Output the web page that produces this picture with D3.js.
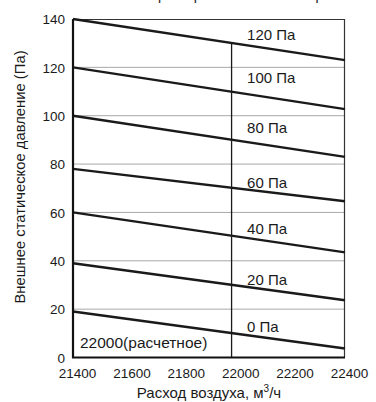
<!DOCTYPE html>
<html>
<head>
<meta charset="utf-8">
<script src="https://cdn.jsdelivr.net/npm/d3@7"></script>
<style>
  body { margin: 0; background: #fff; }
  text { font-family: "Liberation Sans", Arial, sans-serif; fill: #1a1a1a; }
</style>
</head>
<body>
<svg width="376" height="402"></svg>
<script>
// curves: static pressure vs air flow, one per label
var seriesNames = ["0 Па", "20 Па", "40 Па", "60 Па", "80 Па", "100 Па", "120 Па"];
var flowRange = [21400, 22400];
var pressStart = [19, 39, 60, 78, 100, 120, 140];
var pressEnd = [3.7, 23.7, 43.5, 64.6, 83, 102.7, 123];
var labelPa = [12.8, 32.2, 53.3, 72.3, 95, 115.6, 133.4];  // where the text sits
var labelFlow = 22040;
var designFlow = 21983;   // the "22000(расчетное)" marker line
var xTicks = [21400, 21600, 21800, 22000, 22200, 22400];
var yTicks = [0, 20, 40, 60, 80, 100, 120, 140];

var svg = d3.select("svg"),
    margin = {top: 19, right: 31, bottom: 44.5, left: 73},
    width = +svg.attr("width") - margin.left - margin.right,
    height = +svg.attr("height") - margin.top - margin.bottom;

var x = d3.scaleLinear().domain(flowRange).range([0, width]);
var y = d3.scaleLinear().domain([0, 140]).range([height, 0]);

var g = svg.append("g").attr("transform", "translate(" + margin.left + "," + margin.top + ")");

// title sits mostly above the picture, only descenders peek in
svg.append("text")
    .attr("x", 236).attr("y", 0)
    .attr("text-anchor", "middle")
    .style("font-size", "14px")
    .text("Характеристика вентилятора");

// grid
g.append("g").selectAll("line")
    .data(yTicks.slice(1, -1))
    .enter().append("line")
    .attr("x1", 0).attr("x2", width)
    .attr("y1", function(d) { return y(d); })
    .attr("y2", function(d) { return y(d); })
    .style("stroke", "#a8a8a8")
    .style("stroke-width", 1);

// frame: thin top/right, heavy left/bottom
g.append("path")
    .attr("d", "M0,0.5H" + (width - 0.5) + "V" + height)
    .style("fill", "none")
    .style("stroke", "#333")
    .style("stroke-width", 1.2);

var yAxis = g.append("g")
    .call(d3.axisLeft(y).tickValues(yTicks).tickSize(0).tickPadding(8));
yAxis.select(".domain").remove();
yAxis.selectAll("text").style("font-size", "13.5px").attr("dy", "0.35em");

var xAxis = g.append("g")
    .attr("transform", "translate(0," + height + ")")
    .call(d3.axisBottom(x).tickValues(xTicks).tickFormat(d3.format("d")).tickSize(0).tickPadding(11));
xAxis.select(".domain").remove();
xAxis.selectAll("text").style("font-size", "13.5px").attr("dx", 4);

// the curves
var curves = seriesNames.map(function(name, i) {
    return {name: name, pts: [[flowRange[0], pressStart[i]], [flowRange[1], pressEnd[i]]], label: labelPa[i]};
});

var line = d3.line()
    .x(function(d) { return x(d[0]); })
    .y(function(d) { return y(d[1]); });

g.append("g").selectAll("path")
    .data(curves)
    .enter().append("path")
    .attr("d", function(d) { return line(d.pts); })
    .style("fill", "none")
    .style("stroke", "#1a1a1a")
    .style("stroke-width", 2.4);

g.append("g").selectAll("text")
    .data(curves)
    .enter().append("text")
    .attr("x", x(labelFlow))
    .attr("y", function(d) { return y(d.label); })
    .attr("dy", "0.35em")
    .style("font-size", "15px")
    .text(function(d) { return d.name; });

// design-point vertical line up to the top curve
var topPts = curves[curves.length - 1].pts;
var topAt = topPts[0][1] + (topPts[1][1] - topPts[0][1]) * (designFlow - topPts[0][0]) / (topPts[1][0] - topPts[0][0]);
g.append("line")
    .attr("x1", x(designFlow)).attr("x2", x(designFlow))
    .attr("y1", y(0)).attr("y2", y(topAt))
    .style("stroke", "#1a1a1a")
    .style("stroke-width", 1.3);

g.append("text")
    .attr("x", x(21400) + 7)
    .attr("y", y(0) - 10)
    .style("font-size", "15.5px")
    .text("22000(расчетное)");

// heavy left and bottom
g.append("path")
    .attr("d", "M0,0V" + height + "H" + width)
    .style("fill", "none")
    .style("stroke", "#111")
    .style("stroke-width", 2.2);

// axis titles
var xt = svg.append("text")
    .attr("x", margin.left + width / 2)
    .attr("y", 398)
    .attr("text-anchor", "middle")
    .style("font-size", "15px");
xt.append("tspan").text("Расход воздуха, м");
xt.append("tspan").attr("dy", -6).style("font-size", "10px").text("3");
xt.append("tspan").attr("dy", 6).text("/ч");

svg.append("text")
    .attr("transform", "translate(25,177) rotate(-90)")
    .attr("text-anchor", "middle")
    .style("font-size", "14.8px")
    .text("Внешнее статическое давление (Па)");
</script>
</body>
</html>
